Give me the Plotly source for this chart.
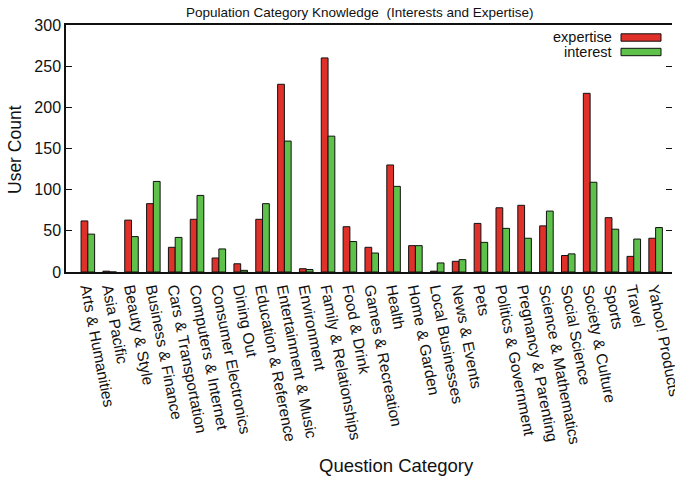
import plotly.graph_objects as go

categories = [
    "Arts & Humanities", "Asia Pacific", "Beauty & Style", "Business & Finance",
    "Cars & Transportation", "Computers & Internet", "Consumer Electronics",
    "Dining Out", "Education & Reference", "Entertainment & Music", "Environment",
    "Family & Relationships", "Food & Drink", "Games & Recreation", "Health",
    "Home & Garden", "Local Businesses", "News & Events", "Pets",
    "Politics & Government", "Pregnancy & Parenting", "Science & Mathematics",
    "Social Science", "Society & Culture", "Sports", "Travel", "Yahoo! Products",
]
expertise = [62, 1, 63, 83, 30, 64, 17, 10, 64, 228, 4,
             260, 55, 30, 130, 32, 1, 13, 59,
             78, 81, 56, 20, 217, 66, 19, 41]
interest = [46, 0, 43, 110, 42, 93, 28, 2, 83, 159, 3,
            165, 37, 23, 104, 32, 11, 15, 36,
            53, 41, 74, 22, 109, 52, 40, 54]

RED = "#e0302a"
GREEN = "#5ec24a"
INK = "#111"
FONT = "Liberation Sans, Arial, sans-serif"

# plot area in pixels
L, R, T, B = 66, 672, 25, 272
W, H = R - L, B - T


def px(x):
    return (x - L) / W


def py(y):
    return (B - y) / H


fig = go.Figure()
fig.add_trace(go.Bar(x=categories, y=expertise, name="expertise",
                     marker=dict(color=RED, line=dict(color=INK, width=1))))
fig.add_trace(go.Bar(x=categories, y=interest, name="interest",
                     marker=dict(color=GREEN, line=dict(color=INK, width=1))))
# invisible trace to carry the right-hand tick marks
fig.add_trace(go.Scatter(x=[categories[0]], y=[0], yaxis="y2", mode="markers",
                         marker=dict(opacity=0), showlegend=False, hoverinfo="skip"))

fig.update_layout(
    width=675, height=480,
    margin=dict(l=L, r=675 - R, t=T, b=480 - B),
    paper_bgcolor="white", plot_bgcolor="white",
    barmode="group", bargap=0.38, bargroupgap=0,
    showlegend=False,
    font=dict(family=FONT, color=INK),
    xaxis=dict(
        type="category", range=[-1, 26.75], automargin=False,
        showline=True, linecolor=INK, linewidth=1.5, mirror=True,
        ticks="", showgrid=False, tickangle=79,
        tickfont=dict(size=15.5, family=FONT),
    ),
    yaxis=dict(
        range=[0, 300], dtick=50, automargin=False,
        showline=True, linecolor=INK, linewidth=1.5,
        ticks="inside", ticklen=6, tickcolor=INK, showgrid=False, zeroline=False,
        tickfont=dict(size=16, family=FONT),
    ),
    yaxis2=dict(
        overlaying="y", side="right", range=[0, 300], dtick=50, automargin=False,
        showline=False, ticks="inside", ticklen=6, tickcolor=INK,
        showticklabels=False, showgrid=False, zeroline=False,
    ),
)

# title and axis titles
fig.add_annotation(text="Population Category Knowledge  (Interests and Expertise)",
                   xref="paper", yref="paper", x=px(359), y=py(13),
                   xanchor="center", yanchor="middle", showarrow=False,
                   font=dict(size=13.5, family=FONT, color=INK))
fig.add_annotation(text="Question Category", xref="paper", yref="paper",
                   x=px(396), y=py(465), xanchor="center", yanchor="middle",
                   showarrow=False, font=dict(size=18.5, family=FONT, color=INK))
fig.add_annotation(text="User Count", xref="paper", yref="paper",
                   x=px(15), y=py(150), xanchor="center", yanchor="middle",
                   textangle=-90, showarrow=False,
                   font=dict(size=17.5, family=FONT, color=INK))

# legend: right-aligned labels beside long swatches
legend_items = [("expertise", RED, 37.5), ("interest", GREEN, 52)]
for label, color, yc in legend_items:
    fig.add_shape(type="rect", xref="paper", yref="paper",
                  x0=px(621), x1=px(661), y0=py(yc + 3.7), y1=py(yc - 3.7),
                  fillcolor=color, line=dict(color=INK, width=1))
    fig.add_annotation(text=label, xref="paper", yref="paper",
                       x=px(613), y=py(yc), xanchor="right", yanchor="middle",
                       showarrow=False, borderpad=0,
                       font=dict(size=14.5, family=FONT, color=INK))

fig.write_html("out.html")
